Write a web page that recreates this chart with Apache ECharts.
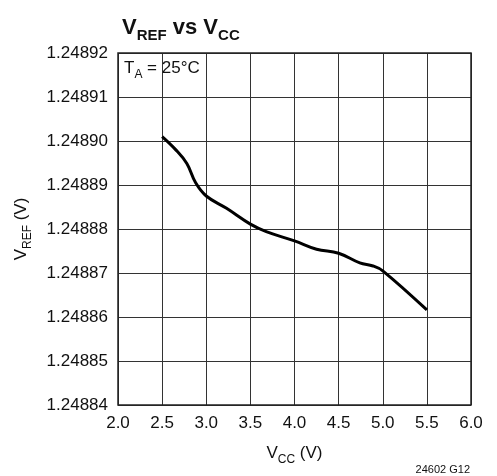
<!DOCTYPE html>
<html><head><meta charset="utf-8">
<script src="https://cdn.jsdelivr.net/npm/echarts@6/dist/echarts.min.js"></script>
<style>html,body{margin:0;padding:0;background:#fff}#c{width:497px;height:476px}</style>
</head><body><div id="c"></div>
<script>
const vcc = [2.5, 2.65, 2.78, 2.88, 3.0, 3.23, 3.5, 3.68, 4.0, 4.25, 4.5, 4.74, 4.89, 5.0, 5.5];
const vref = [1.248901, 1.2488981, 1.2488949, 1.2488905, 1.2488875, 1.2488847, 1.2488811, 1.2488794, 1.2488773, 1.2488754, 1.2488745, 1.2488723, 1.2488716, 1.2488705, 1.2488616];
const xTicks = ['2.0','2.5','3.0','3.5','4.0','4.5','5.0','5.5','6.0'];
const yTicks = ['1.24884','1.24885','1.24886','1.24887','1.24888','1.24889','1.24890','1.24891','1.24892'];

const F = '"Liberation Sans Narrow", "Liberation Sans", sans-serif';
const chart = echarts.init(document.getElementById('c'), null, {renderer:'canvas'});
chart.setOption({
  backgroundColor:'#fff',
  animation:false,
  grid:{left:118, right:26, top:53, bottom:71},
  title:{
    left:117, top:8,
    text:'{v|V}{s|REF}{v| vs V}{s|CC}',
    textStyle:{
      rich:{
        v:{fontFamily:F, fontWeight:'bold', fontSize:22, color:'#111', lineHeight:26, verticalAlign:'bottom'},
        s:{fontFamily:F, fontWeight:'bold', fontSize:15, color:'#111', lineHeight:18, verticalAlign:'bottom', padding:[0,0,-4,0]}
      }
    }
  },
  xAxis:{
    type:'value', min:0, max:8, interval:1,
    axisLine:{show:false}, axisTick:{show:false},
    splitLine:{show:true, lineStyle:{color:'#333', width:1}},
    axisLabel:{fontFamily:F, fontSize:17, color:'#111', margin:10, formatter:(v)=>xTicks[Math.round(v)]},
    name:'{v|V}{s|CC}{v| (V)}', nameLocation:'middle', nameGap:37,
    nameTextStyle:{rich:{
      v:{fontFamily:F, fontSize:17, color:'#111', verticalAlign:'bottom', lineHeight:20},
      s:{fontFamily:F, fontSize:12, color:'#111', verticalAlign:'bottom', lineHeight:13, padding:[0,0,-4,0]}
    }}
  },
  yAxis:{
    type:'value', min:0, max:8, interval:1,
    axisLine:{show:false}, axisTick:{show:false},
    splitLine:{show:true, lineStyle:{color:'#333', width:1}},
    axisLabel:{fontFamily:F, fontSize:17, color:'#111', margin:10, formatter:(v)=>yTicks[Math.round(v)]},
    name:'{v|V}{s|REF}{v| (V)}', nameLocation:'middle', nameGap:88, nameRotate:90,
    nameTextStyle:{rich:{
      v:{fontFamily:F, fontSize:17, color:'#111', verticalAlign:'bottom', lineHeight:20},
      s:{fontFamily:F, fontSize:12, color:'#111', verticalAlign:'bottom', lineHeight:13, padding:[0,0,-4,0]}
    }}
  },
  series:[{
    type:'line', smooth:0.4, showSymbol:false,
    lineStyle:{color:'#000', width:3},
    data: vcc.map((x,i)=>[(x-2)/0.5, (vref[i]-1.24884)/0.00001])
  }],
  graphic:[
    {type:'rect', shape:{x:118, y:53, width:353, height:352}, style:{fill:'none', stroke:'#222', lineWidth:1.5}, z:10},
    {type:'text', left:124, top:60, style:{rich:{
      v:{fontFamily:F, fontSize:17, fill:'#111', verticalAlign:'bottom', lineHeight:20},
      s:{fontFamily:F, fontSize:12, fill:'#111', verticalAlign:'bottom', lineHeight:13, padding:[0,0,-4,0]}
    }, text:'{v|T}{s|A}{v| = 25°C}'}, z:11},
    {type:'text', right:27, top:464, style:{text:'24602 G12', fontFamily:F, fontSize:11, fill:'#111'}}
  ]
});
</script></body></html>
